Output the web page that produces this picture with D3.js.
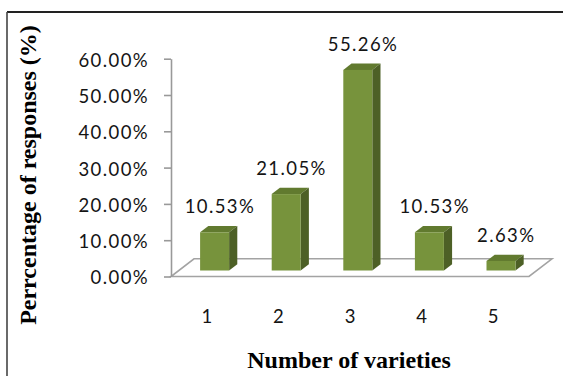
<!DOCTYPE html>
<html>
<head>
<meta charset="utf-8">
<script src="https://cdn.jsdelivr.net/npm/d3@7/dist/d3.min.js"></script>
<style>
  html, body { margin: 0; padding: 0; background: #fff; }
  svg { display: block; }
  .num { font-family: Lato, "Open Sans", sans-serif; font-size: 18.5px; letter-spacing: 1.4px; fill: #141414; }
  .title { font-family: "Liberation Serif", "Times New Roman", serif; font-weight: bold; font-size: 24px; fill: #000; }
</style>
</head>
<body>
<script>
// Chart data
const categories = ["1", "2", "3", "4", "5"];
const percentages = [10.53, 21.05, 55.26, 10.53, 2.63];
const valueLabels = ["10.53%", "21.05%", "55.26%", "10.53%", "2.63%"];
const yTicks = [0, 10, 20, 30, 40, 50, 60];
const yTickLabels = ["0.00%", "10.00%", "20.00%", "30.00%", "40.00%", "50.00%", "60.00%"];

const W = 563, H = 376;
const svg = d3.select("body").append("svg").attr("width", W).attr("height", H);

// Frame lines along the top and left edge
svg.append("line").attr("x1", 7).attr("x2", W).attr("y1", 12).attr("y2", 12)
  .attr("stroke", "#222").attr("stroke-width", 2);
svg.append("line").attr("x1", 7).attr("x2", 7).attr("y1", 12).attr("y2", H)
  .attr("stroke", "#444").attr("stroke-width", 1.6);

// Scales (front plane of the 3D plot)
const y = d3.scaleLinear().domain([0, 60]).range([276.5, 58.7]);
const x = d3.scaleBand().domain(categories).range([171, 529]).padding(0);

// Oblique depth: one unit of depth moves right by kx and up by 1
const kx = 1.3;
const floorDepth = 17.7, barFront = 6, barBack = 12.3;
const barW = x.bandwidth() * 0.405;
const shift = d => [d * kx, -d];

// Floor parallelogram
const x0 = x.range()[0], x1 = x.range()[1], y0 = y(0);
const [fdx, fdy] = shift(floorDepth);
svg.append("path")
  .attr("d", `M${x0},${y0} L${x1},${y0} L${x1 + fdx},${y0 + fdy} L${x0 + fdx},${y0 + fdy} Z`)
  .attr("fill", "#fff").attr("stroke", "#a3a3a3").attr("stroke-width", 1.6);

// Vertical axis
const axis = d3.axisLeft(y).tickValues(yTicks)
  .tickFormat((d, i) => yTickLabels[i]).tickSize(7).tickSizeOuter(0).tickPadding(15);
const gAxis = svg.append("g").attr("transform", `translate(${x0},0)`).call(axis);
gAxis.selectAll("path, line").attr("stroke", "#999").attr("stroke-width", 1.6);
gAxis.selectAll("text").attr("class", "num").attr("dy", "0.4em")
  .attr("font-family", null).attr("font-size", null);

// Bars: front, top and side faces
const [bfx, bfy] = shift(barFront);
const [bbx, bby] = shift(barBack);
const g = svg.append("g");
percentages.forEach((v, i) => {
  const cx = x(categories[i]) + x.bandwidth() / 2;
  const L = cx - barW / 2 + bfx, R = L + barW;
  const B = y0 + bfy, T = y(v) + bfy;
  const dx = bbx - bfx, dy = bby - bfy;
  g.append("path").attr("d", `M${L},${T} L${L + dx},${T + dy} L${R + dx},${T + dy} L${R},${T} Z`)
    .attr("fill", "#617a2f");
  g.append("path").attr("d", `M${R},${T} L${R + dx},${T + dy} L${R + dx},${B + dy} L${R},${B} Z`)
    .attr("fill", "#4d6026");
  g.append("rect").attr("x", L).attr("y", T).attr("width", barW).attr("height", B - T)
    .attr("fill", "#77933c");
  // value label above the bar
  g.append("text").attr("class", "num").attr("text-anchor", "middle")
    .attr("x", cx + bfx + 6 - 0.7).attr("y", T + dy - 13)
    .text(valueLabels[i]);
});

// Category labels
svg.append("g").selectAll("text").data(categories).join("text")
  .attr("class", "num").attr("text-anchor", "middle")
  .attr("x", d => x(d) + x.bandwidth() / 2 + 0.7).attr("y", 323)
  .text(d => d);

// Axis titles
svg.append("text").attr("class", "title").attr("text-anchor", "middle")
  .attr("x", 349).attr("y", 368).text("Number of varieties");
svg.append("text").attr("class", "title").attr("text-anchor", "middle")
  .attr("transform", "translate(36,175) rotate(-90)")
  .text("Perrcentage of responses (%)");
</script>
</body>
</html>
